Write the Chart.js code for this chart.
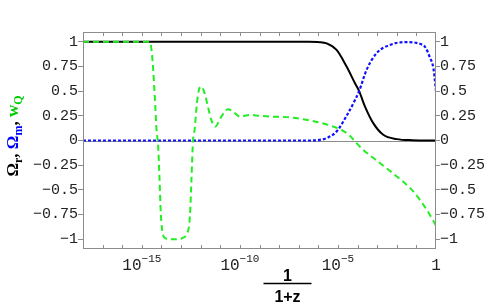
<!DOCTYPE html>
<html>
<head>
<meta charset="utf-8">
<script src="https://cdn.jsdelivr.net/npm/chart.js@4.4.1/dist/chart.umd.min.js"></script>
<style>
html,body{margin:0;padding:0;background:#fff;}
#wrap{width:488px;height:307px;}
</style>
</head>
<body>
<div id="wrap"><canvas id="c" width="488" height="307"></canvas></div>
<script>
// ---- data (x given as log10 of 1/(1+z)) ----
const logA_r = [-18, -6.5, -5.93, -5.58, -5.07, -4.56, -4.13, -3.92, -3.62, -3.2, -2.69, -2.0, -1.2, 0];
const omegaR = [1, 1, 0.997, 0.985, 0.918, 0.75, 0.58, 0.50, 0.344, 0.176, 0.058, 0.014, 0.003, 0];

const logA_m = [-18, -6.5, -5.93, -5.58, -5.07, -4.56, -4.13, -3.92, -3.54, -3.03, -2.35, -1.5, -1.0, -0.75, -0.56, -0.31, -0.13, 0];
const omegaM = [0, 0, 0.006, 0.024, 0.091, 0.25, 0.41, 0.50, 0.716, 0.885, 0.969, 0.998, 0.99, 0.975, 0.95, 0.84, 0.73, 0.5];

const logA_w = [-18, -14.65, -14.55, -14.45, -14.34, -14.25, -14.17, -14.10, -14.03, -13.92, -13.8, -13.66, -13.06, -12.9, -12.72, -12.55, -12.47, -12.39, -12.31, -12.19, -12.09, -11.97, -11.8, -11.63, -11.46, -11.24, -11.04, -10.78, -10.61, -10.35, -10.0, -9.49, -8.98, -8.47, -7.62, -6.77, -5.93, -5.25, -4.82, -4.39, -4.05, -3.71, -2.86, -2.0, -1.16, -0.48, 0];
const wQ = [1, 1, 0.975, 0.8, 0.445, 0.11, -0.05, -0.38, -0.75, -0.955, -0.99, -1, -1, -0.985, -0.955, -0.77, -0.4, 0, 0.108, 0.378, 0.513, 0.547, 0.48, 0.344, 0.21, 0.142, 0.21, 0.29, 0.318, 0.293, 0.243, 0.26, 0.25, 0.243, 0.237, 0.216, 0.182, 0.142, 0.108, 0.048, -0.027, -0.094, -0.229, -0.364, -0.516, -0.70, -0.863];

const yTicks = [-1, -0.75, -0.5, -0.25, 0, 0.25, 0.5, 0.75, 1];
const xLabelExps = [-15, -10, -5, 0];
const xTickExps = [-17, -16, -15, -14, -13, -12, -11, -10, -9, -8, -7, -6, -5, -4, -3, -2, -1];

const toPts = (es, vs) => es.map((e, i) => ({x: Math.pow(10, e), y: vs[i]}));

const GRAY = '#8c8c8c';
const TICKFONT = '"Liberation Mono", "DejaVu Sans Mono", monospace';

const fmt = v => (v < 0 ? '\u2212' : '') + String(Math.abs(v));

const deco = {
  id: 'deco',
  beforeDatasetsDraw(chart) {
    const {ctx, chartArea: a, scales} = chart;
    const y0 = Math.round(scales.y.getPixelForValue(0)) + 0.5;
    ctx.save();
    ctx.strokeStyle = GRAY; ctx.lineWidth = 1;
    ctx.beginPath(); ctx.moveTo(a.left, y0); ctx.lineTo(a.right, y0); ctx.stroke();
    ctx.restore();
  },
  afterDraw(chart) {
    const {ctx, chartArea: a, scales} = chart;
    const xs = scales.x;
    ctx.save();
    // frame
    ctx.strokeStyle = GRAY; ctx.lineWidth = 1;
    ctx.strokeRect(Math.round(a.left) + 0.5, Math.round(a.top) + 0.5, Math.round(a.right - a.left) - 1, Math.round(a.bottom - a.top) - 1);
    // inward x ticks (top and bottom)
    ctx.beginPath();
    xTickExps.forEach(e => {
      const px = Math.round(xs.getPixelForValue(Math.pow(10, e))) + 0.5;
      ctx.moveTo(px, a.bottom); ctx.lineTo(px, a.bottom - 4);
      ctx.moveTo(px, a.top); ctx.lineTo(px, a.top + 4);
    });
    ctx.stroke();
    // x tick labels with superscripts
    ctx.fillStyle = '#222';
    ctx.textBaseline = 'alphabetic';
    xLabelExps.forEach(e => {
      const px = xs.getPixelForValue(Math.pow(10, e));
      if (e === 0) {
        ctx.font = '16px ' + TICKFONT;
        ctx.textAlign = 'center';
        ctx.fillText('1', px, 270);
        return;
      }
      ctx.textAlign = 'left';
      ctx.font = '16px ' + TICKFONT;
      const base = '10';
      const wb = ctx.measureText(base).width;
      ctx.font = '11px ' + TICKFONT;
      const sup = fmt(e);
      const ws = ctx.measureText(sup).width;
      const x0 = px - (wb + ws) / 2;
      ctx.font = '16px ' + TICKFONT;
      ctx.fillText(base, x0, 270);
      ctx.font = '11px ' + TICKFONT;
      ctx.fillText(sup, x0 + wb, 262);
    });
    // x title: 1 / (1+z)
    ctx.fillStyle = '#000';
    ctx.textAlign = 'center';
    ctx.font = 'bold 16px "Liberation Sans", Arial, sans-serif';
    const cx = 287.5;
    ctx.fillText('1', cx, 281);
    ctx.fillText('1+z', cx, 302);
    ctx.strokeStyle = '#000'; ctx.lineWidth = 1.5;
    ctx.beginPath(); ctx.moveTo(263.5, 283.5); ctx.lineTo(311.5, 283.5); ctx.stroke();
    // y title (rotated, coloured segments)
    const segs = [
      ['\u03A9', '#000', 0], ['r', '#000', 1], [', ', '#000', 0],
      ['\u03A9', '#0000ff', 0], ['m', '#0000ff', 1], [', ', '#000', 0],
      ['w', '#00cc00', 0], ['Q', '#00cc00', 1]
    ];
    const mainF = 'bold 17px "Liberation Serif", "Times New Roman", serif';
    const subF = 'bold 12px "Liberation Serif", "Times New Roman", serif';
    let total = 0;
    segs.forEach(s => { ctx.font = s[2] ? subF : mainF; total += ctx.measureText(s[0]).width; });
    ctx.translate(18, 136);
    ctx.rotate(-Math.PI / 2);
    ctx.textAlign = 'left';
    let xx = -total / 2;
    segs.forEach(s => {
      ctx.font = s[2] ? subF : mainF;
      ctx.fillStyle = s[1];
      ctx.fillText(s[0], xx, s[2] ? 4 : 0);
      xx += ctx.measureText(s[0]).width;
    });
    ctx.restore();
  }
};

const yScaleBase = (pos, width, tickLen) => ({
  type: 'linear',
  position: pos,
  min: -1.1, max: 1.1,
  afterBuildTicks: s => { s.ticks = yTicks.map(v => ({value: v})); },
  afterFit: s => { s.width = width; },
  grid: {drawOnChartArea: false, drawTicks: true, tickLength: tickLen, color: GRAY},
  border: {display: false},
  ticks: {
    padding: 0,
    color: '#222',
    font: {family: TICKFONT, size: 15},
    callback: v => fmt(v)
  }
});

new Chart(document.getElementById('c'), {
  type: 'line',
  data: {
    datasets: [
      {label: 'w_Q', data: toPts(logA_w, wQ), borderColor: '#22ee22', borderWidth: 2, borderDash: [6, 4],
       pointRadius: 0, cubicInterpolationMode: 'monotone', fill: false, order: 1},
      {label: 'Omega_m', data: toPts(logA_m, omegaM), borderColor: '#1010ff', borderWidth: 2.2, borderDash: [3, 2],
       pointRadius: 0, cubicInterpolationMode: 'monotone', fill: false, order: 2},
      {label: 'Omega_r', data: toPts(logA_r, omegaR), borderColor: '#000', borderWidth: 2,
       pointRadius: 0, cubicInterpolationMode: 'monotone', fill: false, order: 3}
    ]
  },
  options: {
    responsive: false,
    animation: false,
    devicePixelRatio: 1,
    layout: {padding: {top: 32, left: 0, right: 0, bottom: 0}},
    plugins: {legend: {display: false}, tooltip: {enabled: false}},
    scales: {
      x: {
        type: 'logarithmic',
        min: 1e-18, max: 1,
        afterFit: s => { s.height = 58; },
        grid: {display: false},
        border: {display: false},
        ticks: {display: false}
      },
      y: yScaleBase('left', 83, 5),
      y2: yScaleBase('right', 52, 4)
    }
  },
  plugins: [deco]
});
</script>
</body>
</html>
